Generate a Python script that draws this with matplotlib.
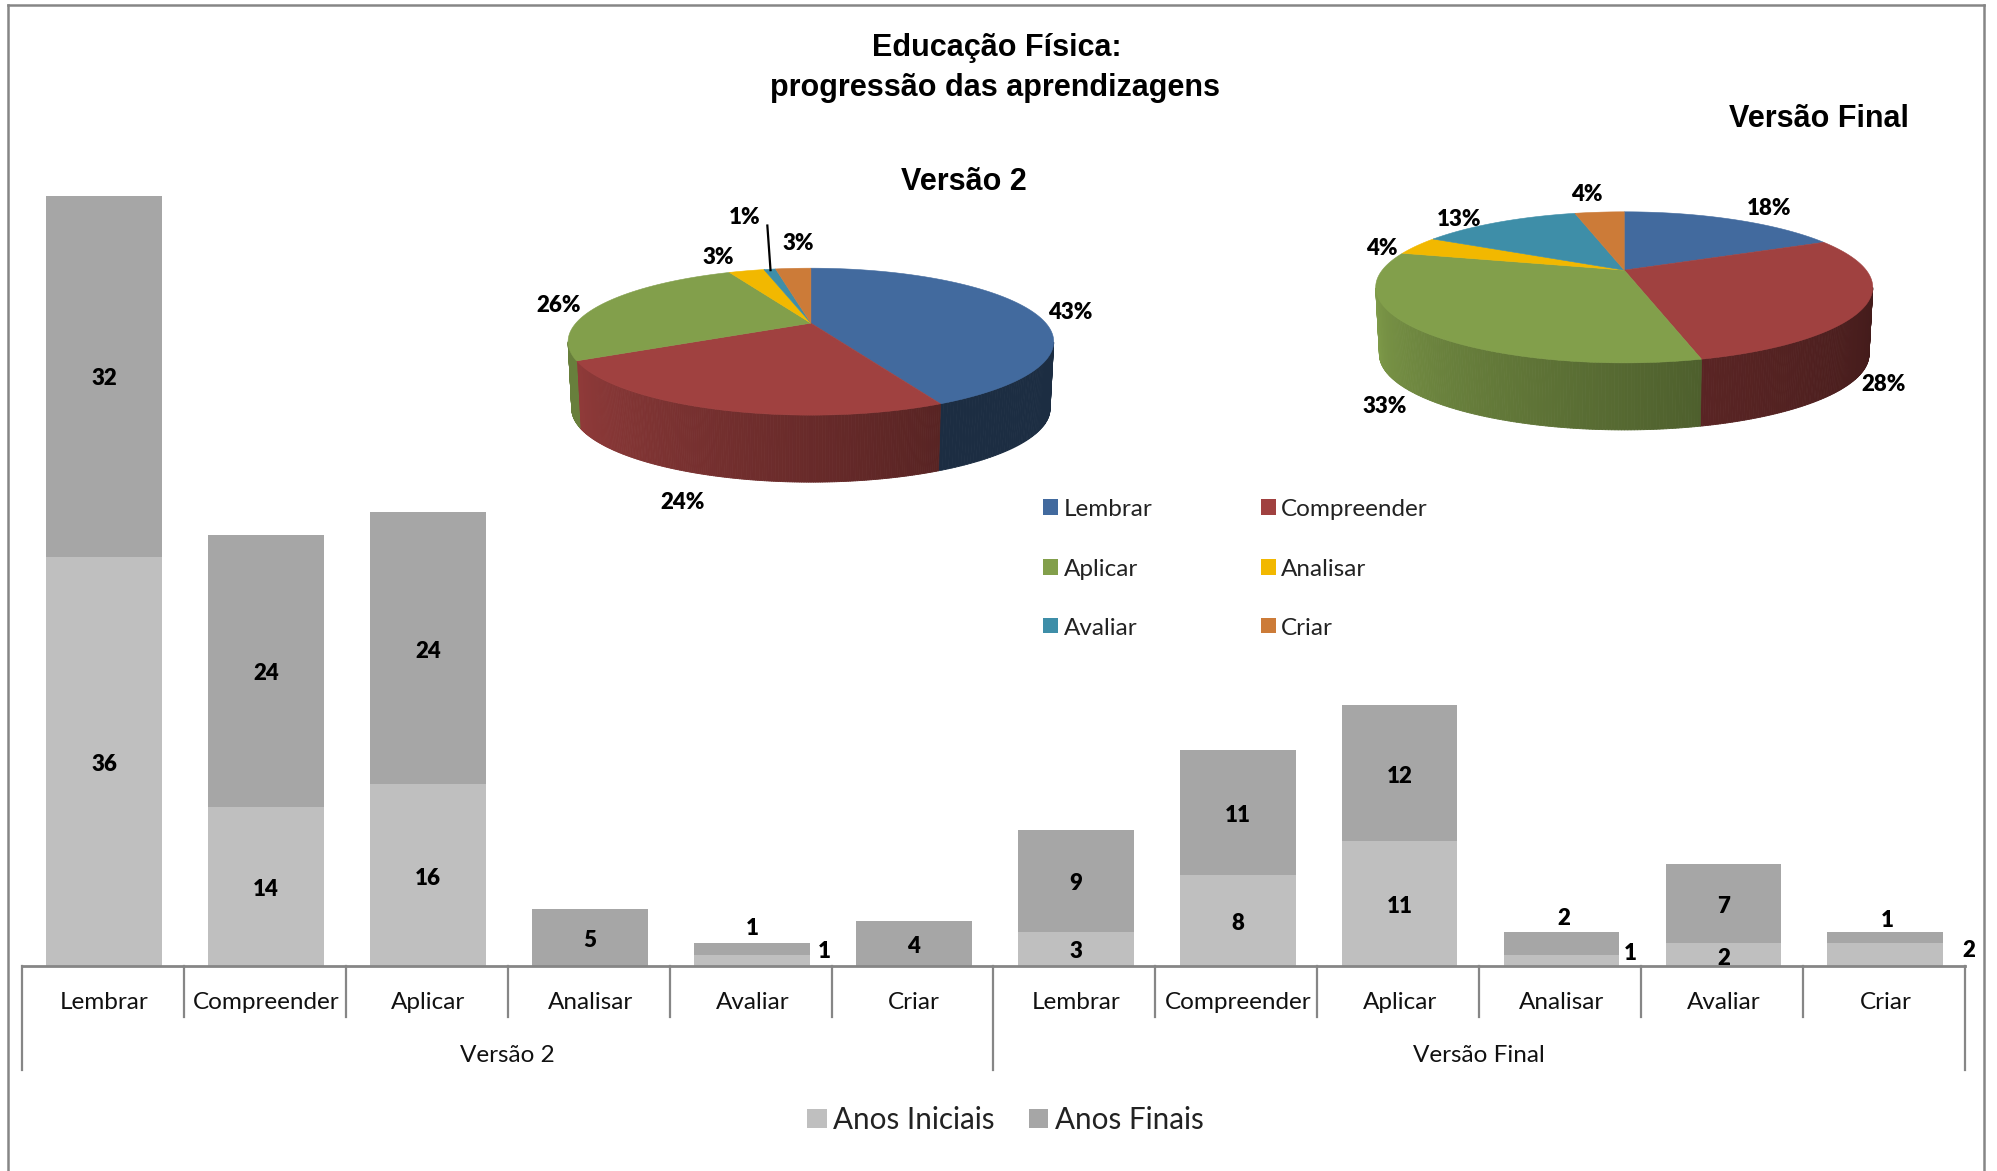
import numpy as np
import matplotlib
matplotlib.use("Agg")
import matplotlib.pyplot as plt
from matplotlib.collections import PolyCollection
from matplotlib.patches import Rectangle

plt.rcParams['font.family'] = ['Lato', 'DejaVu Sans']

# --- DADOS ---
categorias = ['Lembrar', 'Compreender', 'Aplicar', 'Analisar', 'Avaliar', 'Criar']
grupos = ['Versão 2', 'Versão Final']
anos_iniciais = [36, 14, 16, 0, 1, 0, 3, 8, 11, 1, 2, 2]
anos_finais = [32, 24, 24, 5, 1, 4, 9, 11, 12, 2, 7, 1]
pct_v2 = [43, 24, 26, 3, 1, 3]
pct_final = [18, 28, 33, 4, 13, 4]

COR_INI = '#bfbfbf'
COR_FIN = '#a6a6a6'
COR_EIXO = '#868686'
CORES_PIE = ['#426a9e', '#a04140', '#829f4b', '#f2b800', '#3e8ea8', '#cc7b38']

fig = plt.figure(figsize=(19.97, 11.71), dpi=100)
fig.patch.set_facecolor('white')

# camada em coordenadas da imagem (1568x919)
fundo = fig.add_axes([0, 0, 1, 1])
fundo.set_xlim(0, 1568)
fundo.set_ylim(919, 0)
fundo.axis('off')

# moldura (sem linha em baixo, a imagem foi cortada)
fundo.plot([6, 6], [919, 4], color=COR_EIXO, lw=1.8)
fundo.plot([6, 1558], [4, 4], color=COR_EIXO, lw=1.8)
fundo.plot([1558, 1558], [4, 919], color=COR_EIXO, lw=1.8)

# --- BARRAS ---
px_y = 1 / 1171
ax = fig.add_axes([22 / 1997, 1 - 966 * px_y, 1943 / 1997, 770 * px_y])
ax.patch.set_alpha(0)
x = np.arange(12)
ini = np.array(anos_iniciais)
fin = np.array(anos_finais)
ax.bar(x + 0.008, ini, width=0.715, color=COR_INI)
ax.bar(x + 0.008, fin, width=0.715, bottom=ini, color=COR_FIN)
ax.set_xlim(-0.5, 11.5)
ax.set_ylim(0, 67.85)
for s in ['top', 'left', 'right']:
    ax.spines[s].set_visible(False)
ax.spines['bottom'].set_color(COR_EIXO)
ax.spines['bottom'].set_linewidth(2)
ax.set_yticks([])
ax.set_xticks(x + 0.01, categorias * 2, fontsize=17.5, color='#111111')
ax.tick_params(axis='x', length=0, pad=19)

# separadores do eixo em dois níveis
un = 1 / 11.32
for i in range(13):
    baixo = -104 * un if i % 6 == 0 else -51 * un
    ax.plot([i - 0.5, i - 0.5], [0, baixo], color=COR_EIXO, lw=1.6, clip_on=False)
for i, g in enumerate(grupos):
    ax.text(2.5 + 6 * i, -89 * un, g, ha='center', va='center', fontsize=17.5, color='#111111')

# rótulos que o Excel deslocou: (indice, serie) -> dx, dy em pixels
desvios = {
    (4, 'f'): (0, 23), (4, 'i'): (72, 12),
    (9, 'f'): (2, 28), (9, 'i'): (69, 10),
    (10, 'i'): (0, -1),
    (11, 'f'): (2, 20), (11, 'i'): (83, 7),
}
for i in x:
    if ini[i] > 0:
        dx, dy = desvios.get((i, 'i'), (0, 0))
        ax.annotate(str(ini[i]), (i + 0.008, ini[i] / 2), xytext=(dx * 0.72, (dy - 3) * 0.72),
                    textcoords='offset points', ha='center', va='center',
                    fontsize=16, fontweight='heavy', color='black', annotation_clip=False)
    dx, dy = desvios.get((i, 'f'), (0, 0))
    ax.annotate(str(fin[i]), (i + 0.008, ini[i] + fin[i] / 2), xytext=(dx * 0.72, (dy - 3) * 0.72),
                textcoords='offset points', ha='center', va='center',
                fontsize=16, fontweight='heavy', color='black', annotation_clip=False)


# --- PIZZAS 3D ---
def projeta(teta, cx, cy, a, b, k):
    u, v = np.sin(teta), np.cos(teta)
    w = 1 + k * v
    return cx + a * u / w, cy - b * v / w


def pizza(pct, cx, cy, a, b, k, alt, sombras):
    limites = np.radians(np.cumsum([0] + pct) * 3.6)
    # paredes laterais (só a parte da frente)
    for i in sombras:
        t = np.linspace(limites[i], limites[i + 1], 200)
        t = t[np.cos(t) < -k]
        if len(t) < 2:
            continue
        xs, ys = projeta(t, cx, cy, a, b, k)
        f = np.linspace(sombras[i][0], sombras[i][1], len(t) - 1)
        base = np.array(matplotlib.colors.to_rgb(CORES_PIE[i]))
        quads, cores = [], []
        for j in range(len(t) - 1):
            x0 = cx + (xs[j] - cx) * 0.985
            x1 = cx + (xs[j + 1] - cx) * 0.985
            quads.append([(xs[j], ys[j]), (xs[j + 1], ys[j + 1]),
                          (x1, ys[j + 1] + alt), (x0, ys[j] + alt)])
            cores.append(tuple(base * f[j]))
        fundo.add_collection(PolyCollection(quads, facecolors=cores, edgecolors=cores, linewidths=0.6))
    # face de cima
    for i in range(len(pct)):
        t = np.linspace(limites[i], limites[i + 1], 120)
        xs, ys = projeta(t, cx, cy, a, b, k)
        fundo.fill(np.r_[cx, xs], np.r_[cy, ys], color=CORES_PIE[i], lw=0.4)


# sombra da parede: direita escura, esquerda clara
pizza(pct_v2, 636.7, 253.6, 184.5, 54, 0.252, 52.6,
      {0: (0.42, 0.42), 1: (0.55, 0.9), 2: (0.8, 0.8)})
pizza(pct_final, 1275.3, 212, 190, 56.2, 0.228, 52.6,
      {1: (0.41, 0.56), 2: (0.6, 0.97)})

pos_v2 = [(840, 244), (536, 393), (439, 239), (564, 201), (585, 170), (627, 190)]
pos_final = [(1389, 163), (1479, 301), (1087, 318), (1085, 194), (1146, 171), (1246, 152)]
for p, (tx, ty) in zip(pct_v2, pos_v2):
    fundo.text(tx, ty + 1, f'{p}%', ha='center', va='center', fontsize=16, fontweight='heavy')
for p, (tx, ty) in zip(pct_final, pos_final):
    fundo.text(tx, ty + 1, f'{p}%', ha='center', va='center', fontsize=16, fontweight='heavy')
fundo.plot([602.5, 605], [177, 212], color='black', lw=1.6)

# --- TITULOS ---
titulo = dict(ha='center', va='center', fontsize=22, fontweight='bold', family='Liberation Sans')
fundo.text(783, 38, 'Educação Física:', **titulo)
fundo.text(781, 69, 'progressão das aprendizagens', **titulo)
fundo.text(757, 143, 'Versão 2', **titulo)
fundo.text(1428, 93, 'Versão Final', **titulo)

# --- LEGENDAS ---
leg_x = [819, 990]
leg_y = [398, 445, 491]
for i, nome in enumerate(categorias):
    lx = leg_x[i % 2]
    ly = leg_y[i // 2]
    fundo.add_patch(Rectangle((lx, ly - 6), 12, 12, color=CORES_PIE[i], lw=0))
    fundo.text(lx + 16, ly + 2, nome, ha='left', va='center', fontsize=17.5, color='#222222')

fundo.add_patch(Rectangle((634, 870), 15, 15, color=COR_INI, lw=0))
fundo.text(654, 879, 'Anos Iniciais', ha='left', va='center', fontsize=21.3, color='#222222')
fundo.add_patch(Rectangle((808, 870), 15, 15, color=COR_FIN, lw=0))
fundo.text(828, 879, 'Anos Finais', ha='left', va='center', fontsize=21.3, color='#222222')

plt.savefig('out.png', dpi=100)
